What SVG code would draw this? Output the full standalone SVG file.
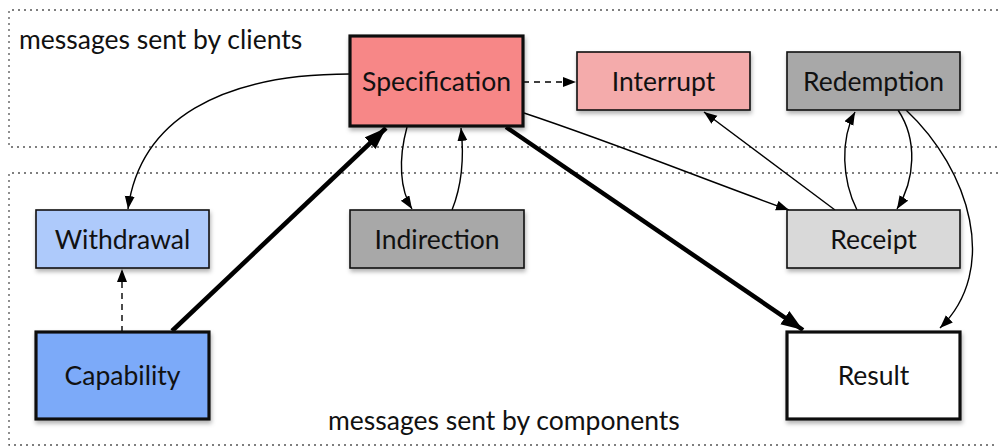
<svg xmlns="http://www.w3.org/2000/svg" width="998" height="447" viewBox="0 0 998 447">
  <style>
    .region { fill: none; stroke: #555; stroke-width: 1.3; stroke-dasharray: 2 4; }
    .box { stroke: #111; stroke-width: 1.6; filter: url(#shadow); }
    .box.heavy { stroke-width: 3.2; }
    .label { font-family: Lato, "Liberation Sans", sans-serif; font-size: 26.5px; fill: #111; text-anchor: middle; }
    .caption { font-family: Lato, "Liberation Sans", sans-serif; font-size: 26.5px; fill: #111; }
    .edge { fill: none; stroke: #000; stroke-width: 1.4; marker-end: url(#arrow); }
    .edge.dashed { stroke-dasharray: 6 5; }
    .edge.heavy { stroke-width: 4.5; marker-end: url(#arrowBig); }
  </style>
  <defs>
    <filter id="shadow" x="-10%" y="-10%" width="130%" height="140%">
      <feDropShadow dx="1" dy="3" stdDeviation="2" flood-color="#000" flood-opacity="0.3"/>
    </filter>
    <marker id="arrow" markerUnits="userSpaceOnUse" markerWidth="14" markerHeight="12" refX="13" refY="5" orient="auto">
      <path d="M0,0 L13,5 L0,10 Z" fill="#000"/>
    </marker>
    <marker id="arrowBig" markerUnits="userSpaceOnUse" markerWidth="24" markerHeight="18" refX="22" refY="8" orient="auto">
      <path d="M0,0 L22,8 L0,16 Z" fill="#000"/>
    </marker>
  </defs>

  <!-- dotted region outlines -->
  <g id="regions">
    <path class="region" d="M998,10 H9 V147 H998"/>
    <path class="region" d="M998,173 H9 V445 H998"/>
    <text class="caption" x="19" y="49">messages sent by clients</text>
    <text class="caption" x="328" y="430">messages sent by components</text>
  </g>

  <!-- connectors -->
  <g id="connectors">
    <path class="edge dashed" d="M523,82 L576,82"/>
    <path class="edge" d="M350,74 C220,74 140,120 128,209"/>
    <path class="edge heavy" d="M172,331 L386,128"/>
    <path class="edge" d="M407,127 C398,160 400,190 412,209"/>
    <path class="edge" d="M452,210 C462,185 464,155 461,128"/>
    <path class="edge heavy" d="M506,127 L803,330"/>
    <path class="edge" d="M524,113 C620,145 700,178 789,210"/>
    <path class="edge" d="M835,210 L704,112"/>
    <path class="edge" d="M857,210 C842,180 840,140 855,112"/>
    <path class="edge" d="M898,110 C918,140 915,180 897,209"/>
    <path class="edge" d="M906,110 C970,170 1000,270 940,328"/>
    <path class="edge dashed" d="M122,332 L122,269"/>
  </g>

  <g id="specification">
    <rect class="box heavy" x="350" y="36" width="173" height="90" fill="#F78787"/>
    <text class="label" x="436.5" y="91">Specification</text>
  </g>
  <g id="interrupt">
    <rect class="box" x="577" y="52" width="173" height="58" fill="#F4ABAB"/>
    <text class="label" x="663.5" y="91">Interrupt</text>
  </g>
  <g id="redemption">
    <rect class="box" x="787" y="52" width="173" height="58" fill="#A8A8A8"/>
    <text class="label" x="873.5" y="91">Redemption</text>
  </g>
  <g id="withdrawal">
    <rect class="box" x="36" y="210" width="173" height="58" fill="#AECAFB"/>
    <text class="label" x="122.5" y="249">Withdrawal</text>
  </g>
  <g id="indirection">
    <rect class="box" x="350" y="210" width="174" height="58" fill="#A8A8A8"/>
    <text class="label" x="437" y="249">Indirection</text>
  </g>
  <g id="receipt">
    <rect class="box" x="787" y="210" width="173" height="58" fill="#D9D9D9"/>
    <text class="label" x="873.5" y="249">Receipt</text>
  </g>
  <g id="capability">
    <rect class="box heavy" x="36" y="332" width="173" height="87" fill="#7BAAF9"/>
    <text class="label" x="122.5" y="385">Capability</text>
  </g>
  <g id="result">
    <rect class="box heavy" x="787" y="332" width="173" height="87" fill="#FFFFFF"/>
    <text class="label" x="873.5" y="385">Result</text>
  </g>
</svg>
